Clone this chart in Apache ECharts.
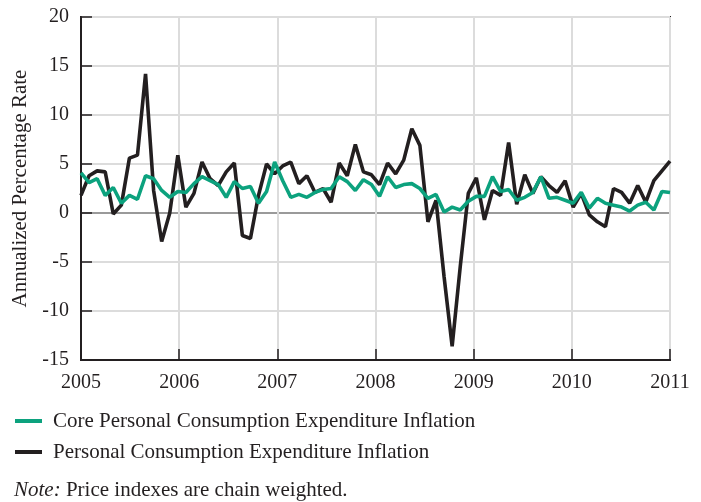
<!DOCTYPE html>
<html>
<head>
<meta charset="utf-8">
<script src="https://cdn.jsdelivr.net/npm/echarts@6/dist/echarts.min.js"></script>
<style>
html, body { margin: 0; padding: 0; background: #fff; }
#main { width: 701px; height: 502px; }
</style>
</head>
<body>
<div id="main"></div>
<script>
// monthly readings, Jan 2005 onward
var pce = [1.8, 3.8, 4.3, 4.2, -0.1, 0.8, 5.6, 5.9, 14.2, 2.3, -2.9, 0.0,
    5.9, 0.6, 2.0, 5.2, 3.5, 2.8, 4.2, 5.1, -2.3, -2.6, 1.8, 5.0,
    4.0, 4.8, 5.2, 3.0, 3.8, 2.1, 2.5, 1.1, 5.1, 3.8, 7.0, 4.2,
    3.9, 2.9, 5.1, 4.0, 5.4, 8.6, 6.9, -0.9, 1.3, -6.5, -13.6, -5.5,
    2.0, 3.6, -0.7, 2.3, 1.8, 7.2, 0.9, 3.9, 2.0, 3.7, 2.8, 2.1,
    3.3, 0.6, 2.0, -0.2, -0.9, -1.4, 2.5, 2.1, 1.0, 2.8, 1.1, 3.3,
    4.3, 5.3];
var corePce = [4.1, 3.1, 3.5, 1.8, 2.6, 1.0, 1.8, 1.4, 3.8, 3.5, 2.3, 1.6,
    2.2, 2.1, 3.0, 3.7, 3.3, 2.9, 1.6, 3.2, 2.5, 2.7, 1.0, 2.2,
    5.2, 3.3, 1.6, 1.9, 1.6, 2.1, 2.4, 2.5, 3.7, 3.2, 2.3, 3.4,
    2.9, 1.7, 3.7, 2.6, 2.9, 3.0, 2.5, 1.5, 1.9, 0.1, 0.6, 0.3,
    1.2, 1.7, 1.7, 3.7, 2.2, 2.4, 1.3, 1.6, 2.1, 3.7, 1.5, 1.6,
    1.3, 1.0, 2.1, 0.5, 1.5, 1.0, 0.8, 0.6, 0.2, 0.8, 1.1, 0.3,
    2.2, 2.1];
var yearTicks = [2005, 2006, 2007, 2008, 2009, 2010, 2011];

var months = [];
for (var i = 0; i < pce.length; i++) {
    var y = 2005 + Math.floor(i / 12);
    var m = (i % 12) + 1;
    months.push(y + '-' + (m < 10 ? '0' + m : m));
}

var ink = '#231f20';
var green = '#0ca27e';
var font = '"Liberation Serif", "DejaVu Serif", serif';

var myChart = echarts.init(document.getElementById('main'));
var option = {
    animation: false,
    textStyle: { fontFamily: font },
    title: {
        left: 9,
        top: 475,
        text: '{i|Note:} Price indexes are chain weighted.',
        textStyle: {
            fontFamily: font,
            fontSize: 21,
            fontWeight: 'normal',
            color: ink,
            rich: {
                i: { fontFamily: font, fontSize: 21, fontStyle: 'italic', color: ink }
            }
        }
    },
    legend: {
        orient: 'vertical',
        left: 15,
        top: 410,
        padding: 0,
        itemWidth: 27,
        itemHeight: 4,
        itemGap: 9,
        icon: 'rect',
        textStyle: { fontFamily: font, fontSize: 21, lineHeight: 22, color: ink, padding: [0, 0, 0, 6] },
        data: ['Core Personal Consumption Expenditure Inflation', 'Personal Consumption Expenditure Inflation']
    },
    grid: {
        left: 81,
        right: 31,
        top: 17,
        bottom: 142,
        show: true,
        borderColor: ink,
        borderWidth: 2
    },
    xAxis: [{
        type: 'category',
        data: months,
        boundaryGap: false,
        show: false
    }, {
        type: 'value',
        min: yearTicks[0],
        max: yearTicks[yearTicks.length - 1],
        interval: 1,
        position: 'bottom',
        axisLine: { show: true, lineStyle: { color: ink, width: 2 } },
        axisTick: { show: true, inside: true, length: 11, lineStyle: { color: ink, width: 1.5 } },
        splitLine: { show: true, lineStyle: { color: '#dcdcdc', width: 2 } },
        axisLabel: {
            color: ink,
            fontSize: 20,
            fontFamily: font,
            margin: 13,
            formatter: function (v) { return String(v); }
        }
    }],
    yAxis: {
        type: 'value',
        min: -15,
        max: 20,
        interval: 5,
        name: 'Annualized Percentage Rate',
        nameLocation: 'middle',
        nameGap: 43,
        nameTextStyle: { color: ink, fontSize: 21, fontFamily: font },
        axisLine: { show: true, lineStyle: { color: ink, width: 2 } },
        axisTick: { show: true, inside: true, length: 11, lineStyle: { color: ink, width: 1.5 } },
        axisLabel: { color: ink, fontSize: 20, fontFamily: font, margin: 12 },
        splitLine: {
            show: true,
            lineStyle: {
                color: ['#dcdcdc', '#dcdcdc', '#dcdcdc', '#9a9a9a', '#dcdcdc', '#dcdcdc', '#dcdcdc', '#dcdcdc'],
                width: 2
            }
        }
    },
    series: [{
        name: 'Personal Consumption Expenditure Inflation',
        type: 'line',
        xAxisIndex: 0,
        data: pce,
        showSymbol: false,
        symbol: 'none',
        lineStyle: { color: ink, width: 3.6 },
        itemStyle: { color: ink },
        z: 3
    }, {
        name: 'Core Personal Consumption Expenditure Inflation',
        type: 'line',
        xAxisIndex: 0,
        data: corePce,
        showSymbol: false,
        symbol: 'none',
        lineStyle: { color: green, width: 3.6 },
        itemStyle: { color: green },
        z: 4
    }]
};
myChart.setOption(option);
</script>
</body>
</html>
